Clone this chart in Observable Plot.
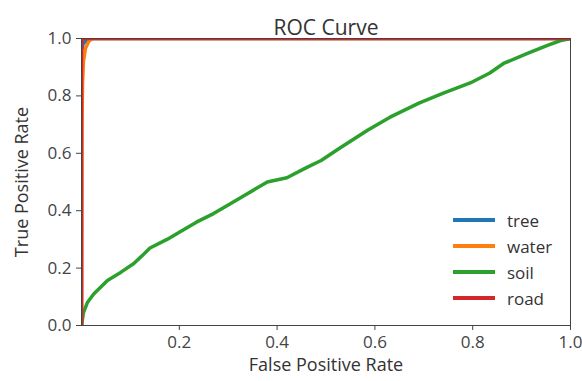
<!DOCTYPE html>
<html>
<head>
<meta charset="utf-8">
<script src="https://cdn.jsdelivr.net/npm/d3@7"></script>
<script src="https://cdn.jsdelivr.net/npm/@observablehq/plot@0.6"></script>
<style>
  html, body { margin: 0; padding: 0; background: #fff; }
  #wrap { position: relative; width: 582px; height: 381px; font-family: "Open Sans", "DejaVu Sans", sans-serif; }
  #legend { position: absolute; left: 453px; top: 207px; }
  .row { display: flex; align-items: center; height: 26px; font-size: 17px; color: #333; }
  .sw { width: 42px; height: 4px; margin-right: 12px; }
</style>
</head>
<body>
<div id="wrap"></div>
<script>
const seriesNames = ["tree", "water", "soil", "road"];
const seriesColors = ["#1f77b4", "#ff7f0e", "#2ca02c", "#d62728"];

const treeFpr = [0, 0, 0.003, 0.008, 0.015, 0.022, 1.0];
const treeTpr = [0, 0.95, 0.98, 0.99, 0.996, 1.0, 1.0];

const waterFpr = [0, 0.001, 0.002, 0.004, 0.008, 0.015, 0.022, 1.0];
const waterTpr = [0, 0.7, 0.84, 0.92, 0.965, 0.99, 1.0, 1.0];

const soilFpr = [0, 0.004, 0.012, 0.025, 0.053, 0.08, 0.107, 0.125, 0.14, 0.175, 0.2, 0.235, 0.27, 0.3, 0.34, 0.38, 0.42, 0.46, 0.49, 0.53, 0.585, 0.63, 0.69, 0.74, 0.795, 0.835, 0.863, 0.912, 0.953, 0.98, 1.0];
const soilTpr = [0, 0.045, 0.08, 0.11, 0.157, 0.185, 0.216, 0.245, 0.27, 0.30, 0.325, 0.36, 0.39, 0.42, 0.46, 0.50, 0.515, 0.55, 0.575, 0.62, 0.68, 0.725, 0.775, 0.81, 0.845, 0.88, 0.913, 0.948, 0.976, 0.993, 1.0];

const roadFpr = [0, 0, 0.002, 1.0];
const roadTpr = [0, 0.98, 1.0, 1.0];

const xTicks = [0.2, 0.4, 0.6, 0.8, 1.0];
const yTicks = [0.0, 0.2, 0.4, 0.6, 0.8, 1.0];

const titleText = "ROC Curve";
const xLabel = "False Positive Rate";
const yLabel = "True Positive Rate";

const fprs = [treeFpr, waterFpr, soilFpr, roadFpr];
const tprs = [treeTpr, waterTpr, soilTpr, roadTpr];
const data = [];
seriesNames.forEach((name, i) => {
  fprs[i].forEach((f, j) => data.push({series: name, fpr: f, tpr: tprs[i][j]}));
});

const lineMarks = seriesNames.map((name, i) =>
  Plot.line(data.filter(d => d.series === name), {
    x: "fpr", y: "tpr", stroke: seriesColors[i], strokeWidth: 3.5, clip: true
  })
);

const chart = Plot.plot({
  width: 582,
  height: 381,
  marginLeft: 81,
  marginRight: 12,
  marginTop: 38,
  marginBottom: 56,
  style: { fontFamily: "'Open Sans', 'DejaVu Sans', sans-serif", fontSize: "17px", color: "#444", background: "#fff" },
  x: { domain: [0, 1] },
  y: { domain: [0, 1] },
  marks: [
    ...lineMarks,
    Plot.frame({ stroke: "#444", strokeWidth: 1 }),
    Plot.axisX({ ticks: xTicks, tickFormat: ".1f", label: null, tickSize: 5, tickPadding: 5, fontSize: 17, stroke: "#444", fill: "#444" }),
    Plot.axisY({ ticks: yTicks, tickFormat: ".1f", label: null, tickSize: 5, tickPadding: 5, fontSize: 17, stroke: "#444", fill: "#444" }),
    Plot.text([titleText], { text: d => d, frameAnchor: "top", dy: -18, fontSize: 21, fill: "#333" }),
    Plot.text([xLabel], { text: d => d, frameAnchor: "bottom", dy: 45, fontSize: 18, fill: "#333" }),
    Plot.text([yLabel], { text: d => d, frameAnchor: "left", textAnchor: "middle", dx: -59, rotate: -90, fontSize: 18, fill: "#333" })
  ]
});

const wrap = document.getElementById("wrap");
wrap.appendChild(chart);

const legend = document.createElement("div");
legend.id = "legend";
seriesNames.forEach((name, i) => {
  const row = document.createElement("div");
  row.className = "row";
  const sw = document.createElement("div");
  sw.className = "sw";
  sw.style.background = seriesColors[i];
  const lab = document.createElement("span");
  lab.textContent = name;
  row.appendChild(sw);
  row.appendChild(lab);
  legend.appendChild(row);
});
wrap.appendChild(legend);
</script>
</body>
</html>
